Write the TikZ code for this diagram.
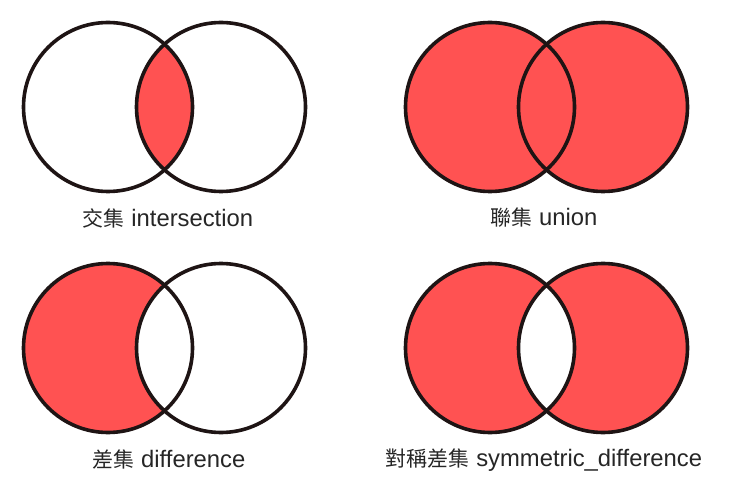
\documentclass[tikz,border=0pt]{standalone}
\usepackage{fontspec}
\setmainfont{Liberation Sans}
\newfontfamily\cjk[Scale=0.88]{Noto Sans CJK TC}
\usepackage{tikz}

\definecolor{setred}{HTML}{FF5252}
\definecolor{ink}{HTML}{1E1414}

\begin{document}
\begin{tikzpicture}[
  x=1pt, y=-1pt,
  ring/.style={draw=ink, line width=3.6pt},
  part/.style={fill=setred},
  caption/.style={font=\fontsize{23.8}{28}\selectfont, text=black!85, inner sep=0pt}]
  \useasboundingbox[fill=white] (0,0) rectangle (755,497);
  \def\rr{84.5}
  % centres
  \coordinate (iA) at (108,107); \coordinate (iB) at (221,107);
  \coordinate (uA) at (490,107); \coordinate (uB) at (603,107);
  \coordinate (dA) at (108,348); \coordinate (dB) at (221,348);
  \coordinate (sA) at (490,348); \coordinate (sB) at (603,348);
  % intersection
  \begin{scope}
    \clip (iA) circle (\rr);
    \fill[part] (iB) circle (\rr);
  \end{scope}
  \draw[ring] (iA) circle (\rr) (iB) circle (\rr);
  % union
  \fill[part] (uA) circle (\rr) (uB) circle (\rr);
  \draw[ring] (uA) circle (\rr) (uB) circle (\rr);
  % difference
  \fill[part] (dA) circle (\rr);
  \fill[white] (dB) circle (\rr);
  \draw[ring] (dA) circle (\rr) (dB) circle (\rr);
  % symmetric difference
  \fill[part] (sA) circle (\rr) (sB) circle (\rr);
  \begin{scope}
    \clip (sA) circle (\rr);
    \fill[white] (sB) circle (\rr);
  \end{scope}
  \draw[ring] (sA) circle (\rr) (sB) circle (\rr);
  % captions
  \node[caption] (capI) at (168,218) {{\cjk 交集} intersection};
  \node[caption] (capU) at (544,218) {{\cjk 聯集} union};
  \node[caption] (capD) at (169,460) {{\cjk 差集} difference};
  \node[caption] (capS) at (544,460) {{\cjk 對稱差集} symmetric\_difference};
\end{tikzpicture}
\end{document}
